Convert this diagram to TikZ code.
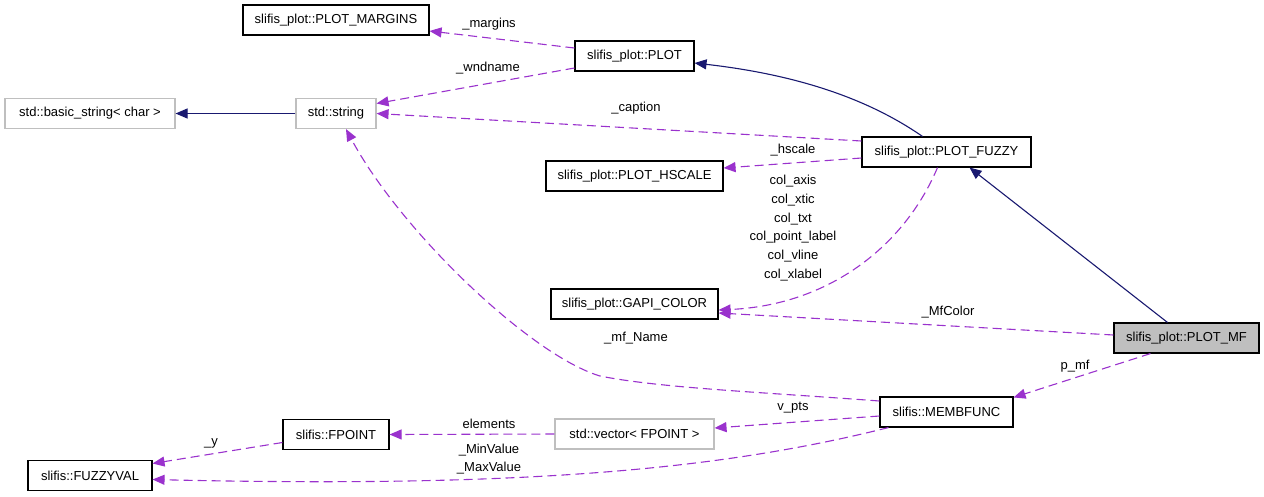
\documentclass[tikz,border=0pt]{standalone}
\usepackage{fontspec}
\setmainfont{Liberation Sans}
\usetikzlibrary{arrows.meta,calc}
\definecolor{inhcol}{HTML}{191970}
\definecolor{usecol}{HTML}{9A32CD}
\definecolor{grayb}{HTML}{BFBFBF}
\begin{document}
\begin{tikzpicture}[x=1pt,y=-1pt,
  every node/.style={font=\fontsize{13}{18.8}\selectfont},
  cls/.style={draw=black,line width=1.1pt,fill=white,inner sep=0pt,minimum height=30pt},
  ext/.style={cls,draw=grayb},
  cur/.style={cls,fill=grayb},
  inh/.style={draw=inhcol,line width=1.1pt,-{Triangle[length=12pt,width=10pt]},fill=none},
  use/.style={draw=usecol,line width=1.1pt,dash pattern=on 9pt off 5pt,-{Triangle[length=12pt,width=10pt,fill=usecol]}},
  lbl/.style={inner sep=0pt,text=black}]
\useasboundingbox (0,0) rectangle (1264,496);
% nodes
\node[cls,minimum width=186pt] (margins) at (336,20) {slifis\_plot::PLOT\_MARGINS};
\node[ext,minimum width=170pt] (basic) at (90,113.5) {std::basic\_string< char >};
\node[ext,minimum width=80pt] (str) at (336,113.5) {std::string};
\node[cls,minimum width=119pt] (plot) at (634.5,56) {slifis\_plot::PLOT};
\node[cls,minimum width=169pt] (fuzzy) at (946.5,152) {slifis\_plot::PLOT\_FUZZY};
\node[cls,minimum width=177pt] (hscale) at (634.5,176) {slifis\_plot::PLOT\_HSCALE};
\node[cls,minimum width=167pt] (gapi) at (634.5,304) {slifis\_plot::GAPI\_COLOR};
\node[cur,minimum width=145pt] (mf) at (1186.5,338) {slifis\_plot::PLOT\_MF};
\node[cls,minimum width=133pt] (memb) at (946.5,412) {slifis::MEMBFUNC};
\node[ext,minimum width=159pt] (vec) at (634.5,434) {std::vector< FPOINT >};
\node[cls,minimum width=106pt] (fpoint) at (336,434.5) {slifis::FPOINT};
\node[cls,minimum width=124pt] (fuzzyval) at (90,475.5) {slifis::FUZZYVAL};
% inheritance
\draw[inh] (str.west) -- (basic.east);
\draw[inh] ($(fuzzy.north)+(-24,0)$) .. controls (870,100) and (800,75) .. ($(plot.east)+(0,7)$);
\draw[inh] ($(mf.north)+(-19,0)$) -- ($(fuzzy.south)+(23,0)$);
% usage
\draw[use] ($(plot.west)+(0,-8)$) -- ($(margins.east)+(0,11)$);
\draw[use] ($(plot.west)+(0,12)$) -- ($(str.east)+(0,-10)$);
\draw[use] ($(fuzzy.west)+(0,-11)$) -- (str.east);
\draw[use] ($(fuzzy.west)+(0,6)$) -- ($(hscale.east)+(0,-8)$);
\draw[use] ($(fuzzy.south)+(-9,0)$) .. controls (905,245) and (830,305) .. ($(gapi.east)+(0,6)$);
\draw[use] ($(mf.west)+(0,-3)$) -- ($(gapi.east)+(0,9)$);
\draw[use] ($(memb.west)+(0,-11)$) .. controls (760,392) and (660,388) .. (600,376) .. controls (530,355) and (400,230) .. ($(str.south)+(10,0)$);
\draw[use] ($(mf.south)+(-36,0)$) -- ($(memb.north east)+(0,1)$);
\draw[use] ($(memb.west)+(0,4)$) -- ($(vec.east)+(0,-6)$);
\draw[use] (vec.west) -- (fpoint.east);
\draw[use] ($(fpoint.west)+(0,8)$) -- ($(fuzzyval.east)+(0,-12)$);
\draw[use] ($(memb.south)+(-58,0)$) .. controls (720,470) and (520,488) .. ($(fuzzyval.east)+(0,4)$);
% labels
\node[lbl] (lmargins) at (489,24) {\_margins};
\node[lbl] (lwnd) at (488,68) {\_wndname};
\node[lbl] (lcap) at (636,108) {\_caption};
\node[lbl] (lhs) at (793,150) {\_hscale};
\node[lbl,align=center] (lcol) at (793,228) {col\_axis\\col\_xtic\\col\_txt\\col\_point\_label\\col\_vline\\col\_xlabel};
\node[lbl] (lmfc) at (948,312) {\_MfColor};
\node[lbl] (lmfn) at (636,338) {\_mf\_Name};
\node[lbl] (lpmf) at (1075,366) {p\_mf};
\node[lbl] (lvpts) at (793,408) {v\_pts};
\node[lbl] (lel) at (489,424) {elements};
\node[lbl] (lmin) at (489,450) {\_MinValue};
\node[lbl] (lmax) at (489,468) {\_MaxValue};
\node[lbl] (ly) at (211,443) {\_y};
\end{tikzpicture}
\end{document}
